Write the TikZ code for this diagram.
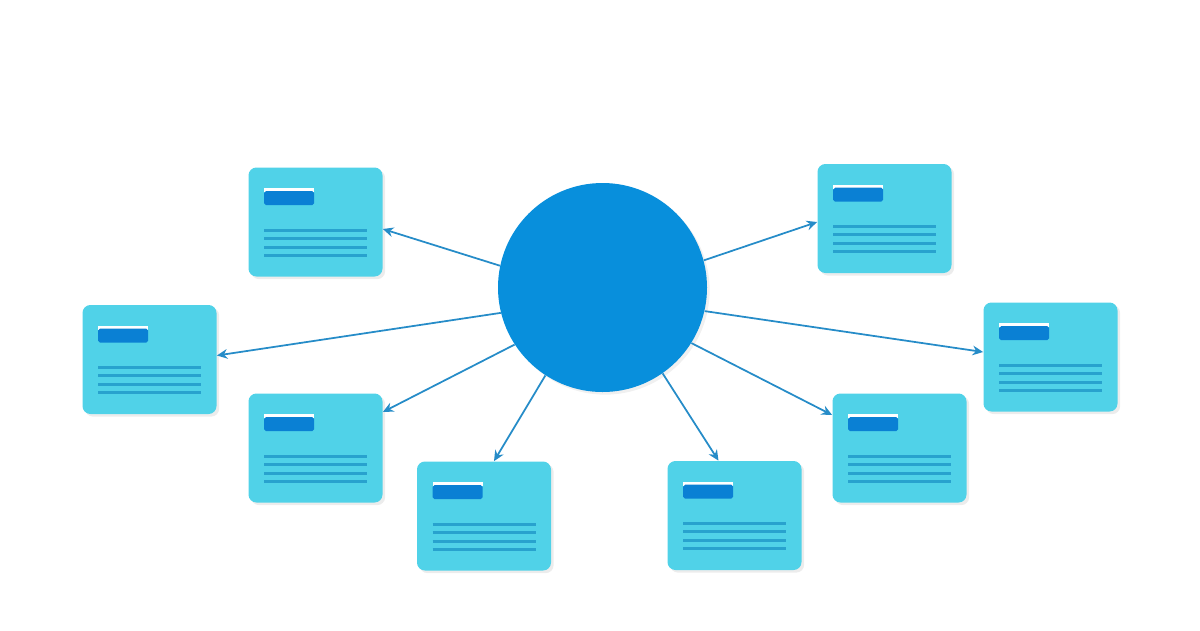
\documentclass[tikz,border=0pt]{standalone}
\usepackage{tikz}
\usetikzlibrary{arrows.meta}
\usetikzlibrary{shadows}
\definecolor{cardfill}{RGB}{80,210,232}
\definecolor{barblue}{RGB}{10,128,212}
\definecolor{lineblue}{RGB}{40,162,206}
\definecolor{hubblue}{RGB}{8,143,220}
\definecolor{linkblue}{RGB}{38,140,200}
\tikzstyle{card}=[fill=cardfill, rounded corners=4.5pt, minimum width=134*0.02cm, minimum height=109*0.02cm, inner sep=0pt, drop shadow={shadow xshift=1.5pt, shadow yshift=-1.5pt, opacity=0.15}]
\tikzstyle{hub}=[circle, fill=hubblue, minimum size=209*0.02cm, inner sep=0pt, drop shadow={shadow xshift=1.5pt, shadow yshift=-1.5pt, opacity=0.12}]
\tikzstyle{link}=[draw=linkblue, line width=1pt, -{Stealth[length=6pt, width=5.5pt]}]
\tikzstyle{textline}=[draw=lineblue, line width=1.7pt]

\begin{document}
\begin{tikzpicture}[x=0.02cm, y=-0.02cm]
        \useasboundingbox (0,0) rectangle (1200,630);
        \node[hub] (center) at (602.5, 287.5) {};
        \node[card] (c1) at (315.5, 222) {};
        \node[card] (c2) at (149.5, 359.5) {};
        \node[card] (c3) at (315.5, 448) {};
        \node[card] (c4) at (484, 516) {};
        \node[card] (c5) at (734.5, 515.5) {};
        \node[card] (c6) at (899.5, 448) {};
        \node[card] (c7) at (1050.5, 357) {};
        \node[card] (c8) at (884.5, 218.5) {};
        % title bar and text lines on each card
        \foreach \c in {c1,c2,c3,c4,c5,c6,c7,c8} {
            \fill[white] ([shift={(16,21)}]\c.north west) rectangle ([shift={(66,25)}]\c.north west);
            \fill[barblue, rounded corners=1.1pt] ([shift={(16,24)}]\c.north west) rectangle ([shift={(66,38)}]\c.north west);
            \foreach \y in {63,71,80,88}
                \draw[textline] ([shift={(16,\y)}]\c.north west) -- ([shift={(119,\y)}]\c.north west);
        }
        \draw[link] (center.168) -- ([shift={(0,7)}]c1.east);
        \draw[link] (center.194) -- ([shift={(0,-4)}]c2.east);
        \draw[link] (center.213) -- ([shift={(0,-36)}]c3.east);
        \draw[link] (center.237.6) -- ([shift={(10,0)}]c4.north);
        \draw[link] (center.305) -- ([shift={(-16,0)}]c5.north);
        \draw[link] (center.328.5) -- ([shift={(0,-33)}]c6.west);
        \draw[link] (center.347) -- ([shift={(0,-5)}]c7.west);
        \draw[link] (center.15.8) -- ([shift={(0,3.5)}]c8.west);
    \end{tikzpicture}
\end{document}
